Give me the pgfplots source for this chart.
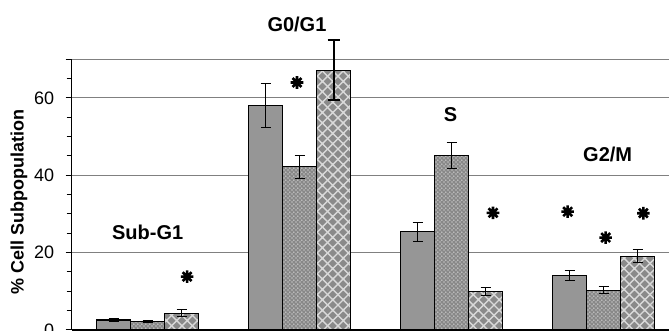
\documentclass[border=0pt]{standalone}
\usepackage{pgfplots}
\pgfplotsset{compat=1.18}
\usepackage{fontspec}
\setmainfont{Liberation Sans}
\usetikzlibrary{patterns.meta}
\definecolor{barA}{HTML}{969696}
\definecolor{barB}{HTML}{888888}
\definecolor{barC}{HTML}{8A8A8A}
\definecolor{gridc}{HTML}{808080}
\tikzdeclarepattern{
  name=wdots,
  type=uncolored,
  bottom left={(0pt,0pt)},
  top right={(4.4pt,4.4pt)},
  tile size={(4.4pt,4.4pt)},
  code={
    \fill (1.1pt,1.1pt) circle (0.75pt);
    \fill (3.3pt,3.3pt) circle (0.75pt);
  }
}
\tikzdeclarepattern{
  name=wdiam,
  type=uncolored,
  bottom left={(-1pt,-1pt)},
  top right={(11.7pt,11.7pt)},
  tile size={(10.4pt,10.4pt)},
  code={
    \draw[line width=1.4pt] (-1pt,-1pt) -- (11.4pt,11.4pt);
    \draw[line width=1.4pt] (-1pt,11.4pt) -- (11.4pt,-1pt);
  }
}
\pgfdeclareplotmark{ast8}{%
  \pgfpathmoveto{\pgfqpoint{-\pgfplotmarksize}{0pt}}%
  \pgfpathlineto{\pgfqpoint{\pgfplotmarksize}{0pt}}%
  \pgfpathmoveto{\pgfqpoint{0pt}{-\pgfplotmarksize}}%
  \pgfpathlineto{\pgfqpoint{0pt}{\pgfplotmarksize}}%
  \pgfpathmoveto{\pgfqpoint{-0.7071\pgfplotmarksize}{-0.7071\pgfplotmarksize}}%
  \pgfpathlineto{\pgfqpoint{0.7071\pgfplotmarksize}{0.7071\pgfplotmarksize}}%
  \pgfpathmoveto{\pgfqpoint{-0.7071\pgfplotmarksize}{0.7071\pgfplotmarksize}}%
  \pgfpathlineto{\pgfqpoint{0.7071\pgfplotmarksize}{-0.7071\pgfplotmarksize}}%
  \pgfusepathqstroke}
\pgfplotstableread{
x y e
0 2.6 0.3
1 58.0 5.7
2 25.4 2.4
3 14.1 1.3
}\serA
\pgfplotstableread{
x y e
0 2.2 0.3
1 42.2 2.9
2 45.1 3.4
3 10.3 0.9
}\serB
\pgfplotstableread{
x y e
0 4.3 0.9
2 10.0 1.0
3 19.1 1.7
}\serC
\pgfplotstableread{
x y e
1 67.2 7.7
}\serCb
\pgfplotstableread{
x y
0.259 13.8
0.982 64.0
2.272 30.3
2.763 30.6
3.013 23.9
3.261 30.2
}\stars
\begin{document}
\begin{tikzpicture}
\begin{axis}[
  scale only axis, width=608pt, height=270.7pt,
  xmin=-0.5, xmax=3.5, ymin=0, ymax=70,
  axis x line*=bottom, axis y line*=left,
  axis line style={black, line width=1.2pt},
  xtick=\empty,
  ytick={0,20,40,60}, minor ytick={5,10,...,65},
  yticklabels={0,20,40,60},
  extra y ticks={70}, extra y tick labels={},
  extra y tick style={grid=major},
  ymajorgrids,
  major grid style={draw=gridc, line width=1pt},
  tick align=outside, major tick length=6pt, minor tick length=5pt,
  every tick/.style={black, line width=1pt},
  /pgf/number format/assume math mode=true,
  yticklabel style={font=\fontsize{18}{21}\selectfont, anchor=east, inner sep=0pt, xshift=-11.4pt},
  clip=false,
  ybar=0pt, bar width=34pt,
  error bars/y dir=both, error bars/y explicit,
  error bars/error bar style={line width=1pt, black},
  error bars/error mark options={rotate=90, mark size=5pt, line width=1pt, black},
]
\addplot[bar shift=-34pt, draw=black, line width=1.2pt, fill=barA]
  table[x=x, y=y, y error=e] {\serA};
\addplot[bar shift=0pt, draw=black, line width=1.2pt, fill=barB,
  postaction={pattern=wdots, pattern color=white}]
  table[x=x, y=y, y error=e] {\serB};
\addplot[bar shift=34pt, draw=black, line width=1.2pt, fill=barC,
  postaction={pattern=wdiam, pattern color=white!85!black}]
  table[x=x, y=y, y error=e] {\serC};
\addplot[bar shift=34pt, draw=black, line width=1.2pt, fill=barC,
  postaction={pattern=wdiam, pattern color=white!85!black},
  error bars/error bar style={line width=2pt, black},
  error bars/error mark options={rotate=90, mark size=6pt, line width=2pt, black}]
  table[x=x, y=y, y error=e] {\serCb};
\addplot[only marks, mark=ast8, mark size=6.3pt, mark options={black, line width=2.6pt}, error bars/y dir=none]
  table[x=x, y=y] {\stars};
\node[font=\fontsize{20}{24}\selectfont\bfseries] at (axis cs:0,25.3) {Sub-G1};
\node[font=\fontsize{20}{24}\selectfont\bfseries] at (axis cs:0.982,78.9) {G0/G1};
\node[font=\fontsize{20}{24}\selectfont\bfseries] at (axis cs:1.993,55.6) {S};
\node[font=\fontsize{20}{24}\selectfont\bfseries] at (axis cs:3.026,45.5) {G2/M};
\node[font=\fontsize{18}{21}\selectfont\bfseries, rotate=90] at ([xshift=-52.7pt]axis cs:-0.5,33.1) {\% Cell Subpopulation};
\end{axis}
\pgfresetboundingbox
\path[use as bounding box] (-71.7pt,-1pt) rectangle (597.3pt,330pt);
\end{tikzpicture}
\end{document}
